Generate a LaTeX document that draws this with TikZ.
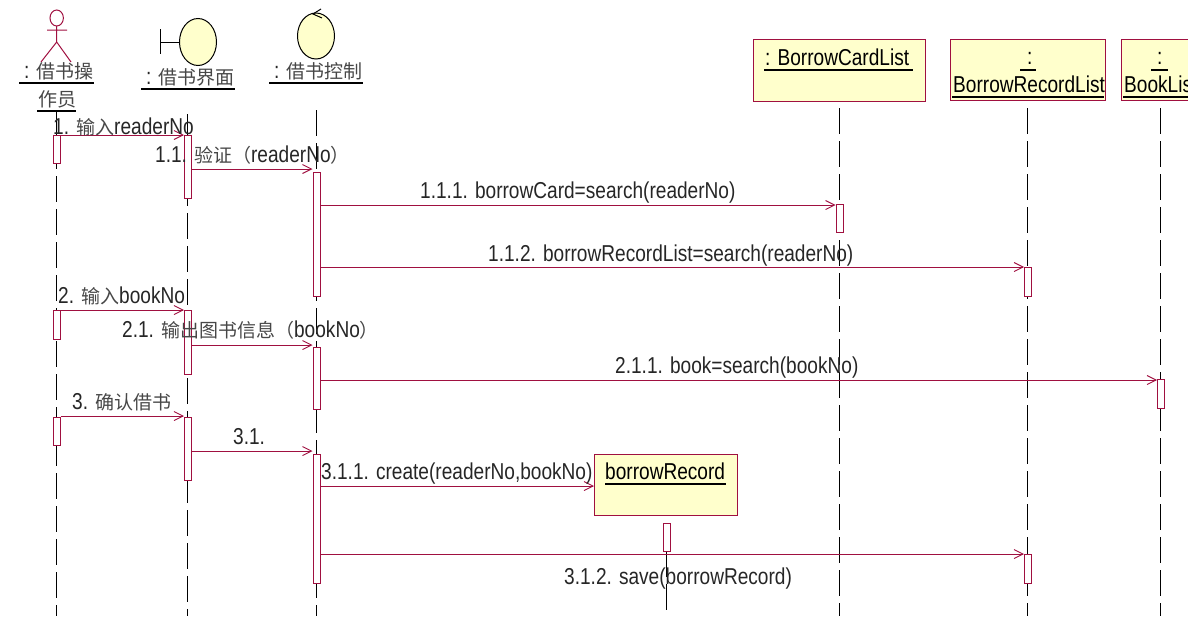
\documentclass[tikz,border=0pt]{standalone}
\usepackage{fontspec}
\setmainfont[FakeStretch=0.83]{Liberation Sans}
\newfontfamily\cjk{Noto Sans CJK SC}
\usetikzlibrary{arrows.meta,shapes.geometric}
\definecolor{rosered}{HTML}{A01040}
\definecolor{objfill}{HTML}{FFFFCC}
\newcommand{\zh}[1]{{\cjk\fontsize{19}{21}\selectfont\color{black!72}#1}}
\tikzset{
  txt/.style={anchor=base west,inner sep=0pt,font=\fontsize{23}{25}\selectfont,text=black!85},
  objbox/.style={draw=rosered,fill=objfill,line width=1pt,inner sep=0pt,anchor=north west},
  act/.style={draw=rosered,fill=white,line width=1pt,inner sep=0pt,anchor=north west,minimum width=7pt},
  life/.style={draw=black,line width=1pt,dash pattern=on 26pt off 7pt},
  msg/.style={draw=rosered,line width=1pt,-{Straight Barb[length=9pt,width=9pt,line width=0.9pt]}},
  ul/.style={draw=black,line width=2pt},
  sym/.style={draw=rosered,line width=1pt},
  ctl/.style={draw=black,line width=1pt,fill=objfill},
}
\begin{document}
\begin{tikzpicture}[x=1pt,y=-1pt]
\useasboundingbox (0,0) rectangle (1188,616);
\clip (0,0) rectangle (1188,616);
% lifeline tops
\coordinate (la) at (56.5,110); \coordinate (lae) at (56.5,616);
\coordinate (lb) at (187.5,114); \coordinate (lbe) at (187.5,616);
\coordinate (lc) at (316.5,110); \coordinate (lce) at (316.5,616);
\coordinate (ld) at (839.5,108); \coordinate (lde) at (839.5,616);
\coordinate (le) at (1027.5,108); \coordinate (lee) at (1027.5,616);
\coordinate (lf) at (1160.5,108); \coordinate (lfe) at (1160.5,616);
\coordinate (lg) at (666.5,551); \coordinate (lge) at (666.5,616);
\foreach \s/\t in {la/lae,lb/lbe,lc/lce,ld/lde,le/lee,lf/lfe,lg/lge}{\draw[life] (\s) -- (\t);}
% object boxes
\node[objbox,minimum width=172pt,minimum height=62pt] (ocard) at (753,39) {};
\node[objbox,minimum width=155pt,minimum height=61pt] (orec) at (950,39) {};
\node[objbox,minimum width=80pt,minimum height=61pt] (obook) at (1121,39) {};
\node[objbox,minimum width=143pt,minimum height=61pt] (onew) at (594,454) {};
% activations
\node[act,minimum height=28pt] (a1) at (52.5,135) {};
\node[act,minimum height=29pt] (a2) at (52.5,310) {};
\node[act,minimum height=28pt] (a3) at (52.5,417) {};
\node[act,minimum height=63pt] (b1) at (184,135) {};
\node[act,minimum height=64pt] (b2) at (184,310) {};
\node[act,minimum height=63pt] (b3) at (184,417) {};
\node[act,minimum height=124pt] (c1) at (312.5,172) {};
\node[act,minimum height=62pt] (c2) at (312.5,347) {};
\node[act,minimum height=129pt] (c3) at (312.5,454) {};
\node[act,minimum height=28pt] (d1) at (835.5,204) {};
\node[act,minimum height=29pt] (e1) at (1024,267) {};
\node[act,minimum height=29pt] (e2) at (1024,554) {};
\node[act,minimum height=29pt] (f1) at (1157,379) {};
\node[act,minimum height=28pt] (g1) at (662.5,523) {};
% messages
\draw[msg] (a1.east |- 0,135) -- (b1.west |- 0,135);
\draw[msg] (b1.east |- 0,169) -- (c1.west |- 0,169);
\draw[msg] (c1.east |- 0,205) -- (d1.west |- 0,205);
\draw[msg] (c1.east |- 0,267) -- (e1.west |- 0,267);
\draw[msg] (a2.east |- 0,310) -- (b2.west |- 0,310);
\draw[msg] (b2.east |- 0,345) -- (c2.west |- 0,345);
\draw[msg] (c2.east |- 0,380) -- (f1.west |- 0,380);
\draw[msg] (a3.east |- 0,416) -- (b3.west |- 0,416);
\draw[msg] (b3.east |- 0,451) -- (c3.west |- 0,451);
\draw[msg] (c3.east |- 0,486) -- (onew.west |- 0,486);
\draw[msg] (c3.east |- 0,554) -- (e2.west |- 0,554);
% actor
\draw[sym] (56.7,18) ellipse (6.7pt and 8pt);
\draw[sym] (47,30) -- (67,30) (56.7,26) -- (56.7,42) -- (41,62) (56.7,42) -- (71,62);
% boundary
\node[ctl,ellipse,minimum width=37pt,minimum height=47pt,inner sep=0pt] (bnd) at (198,42) {};
\draw[draw=black,line width=1pt] (160.5,29) -- (160.5,54) (160.5,42) -- (bnd.west);
% control
\node[ctl,ellipse,minimum width=37pt,minimum height=46pt,inner sep=0pt] (ctrl) at (316,36) {};
\draw[draw=black,line width=1pt] (321,9) -- (313,14) -- (322,18);
% header texts
\node[txt] (tA) at (24,78) {: \zh{借书操}};
\draw[ul] (19,82.5) -- (94,82.5);
\node[txt] (tAb) at (38,106) {\zh{作员}};
\draw[ul] (37,110.5) -- (76,110.5);
\node[txt] (tB) at (146,84) {: \zh{借书界面}};
\draw[ul] (141,88.5) -- (235,88.5);
\node[txt] (tC) at (274,78) {: \zh{借书控制}};
\draw[ul] (269,82.5) -- (363,82.5);
\node[txt,text=black] (tD) at (765,65.5) {: BorrowCardList};
\draw[ul] (764,70) -- (913,70);
\node[txt,text=black] (tE) at (1027,64.5) {:};
\draw[ul] (1020,70) -- (1036,70);
\node[txt,text=black] (tEb) at (953,92.5) {BorrowRecordList};
\draw[ul] (952,97) -- (1104,97);
\node[txt,text=black] (tF) at (1157,64.5) {:};
\draw[ul] (1151,70) -- (1168,70);
\node[txt,text=black] (tFb) at (1124,92.5) {BookList};
\draw[ul] (1123,97) -- (1188,97);
\node[txt,text=black] (tG) at (605,479.5) {borrowRecord};
\draw[ul] (605,483.5) -- (726,483.5);
% message texts
\node[txt] (m1) at (53,134.5) {1. \zh{输入}readerNo};
\node[txt] (m11) at (155,162) {1.1. \zh{验证（}readerNo\zh{）}};
\node[txt] (m111) at (420,198) {1.1.1. borrowCard=search(readerNo)};
\node[txt] (m112) at (488,261) {1.1.2. borrowRecordList=search(readerNo)};
\node[txt] (m2) at (58,303) {2. \zh{输入}bookNo};
\node[txt] (m21) at (122,337) {2.1. \zh{输出图书信息（}bookNo\zh{）}};
\node[txt] (m211) at (615,373) {2.1.1. book=search(bookNo)};
\node[txt] (m3) at (72,409) {3. \zh{确认借书}};
\node[txt] (m31) at (233,444) {3.1.};
\node[txt] (m311) at (321,479) {3.1.1. create(readerNo,bookNo)};
\node[txt] (m312) at (564,584) {3.1.2. save(borrowRecord)};
\end{tikzpicture}
\end{document}
